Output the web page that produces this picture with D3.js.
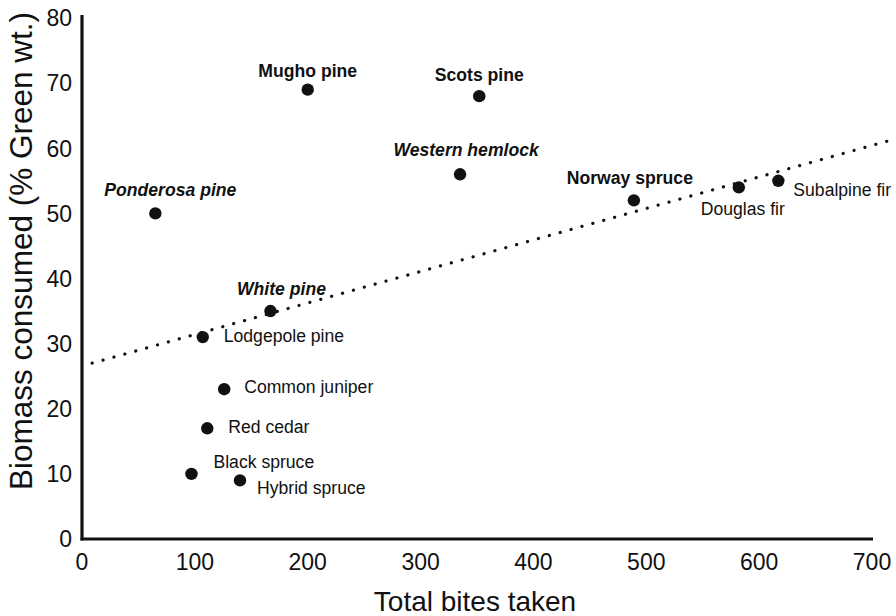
<!DOCTYPE html>
<html>
<head>
<meta charset="utf-8">
<script src="https://cdn.jsdelivr.net/npm/d3@7/dist/d3.min.js"></script>
<style>
  html, body { margin: 0; padding: 0; background: #fff; }
  svg { display: block; font-family: "Liberation Sans", Arial, Helvetica, sans-serif; }
</style>
</head>
<body>
<svg id="chart" width="896" height="616"></svg>
<script>
// Conifer species
const species = [
  "Ponderosa pine", "Mugho pine", "Scots pine", "Western hemlock",
  "Norway spruce", "Douglas fir", "Subalpine fir", "White pine",
  "Lodgepole pine", "Common juniper", "Red cedar", "Black spruce", "Hybrid spruce"
];
// Total bites taken per species
const bites = [65, 200, 352, 335, 489, 582, 617, 167, 107, 126, 111, 97, 140];
// Biomass consumed (% green weight)
const biomass = [50, 69, 68, 56, 52, 54, 55, 35, 31, 23, 17, 10, 9];

// Linear trend line end points (bites, biomass)
const trendBites = [9, 722];
const trendBiomass = [27.0, 61.5];

// Axis ticks
const xTicks = [0, 100, 200, 300, 400, 500, 600, 700];
const yTicks = [0, 10, 20, 30, 40, 50, 60, 70, 80];

// Label styling and placement relative to each point
const labelStyle = {
  "Ponderosa pine":  { weight: "bold", italic: true,  anchor: "middle", dx: 15, dy: -17 },
  "Mugho pine":      { weight: "bold", italic: false, anchor: "middle", dx: 0,  dy: -13 },
  "Scots pine":      { weight: "bold", italic: false, anchor: "middle", dx: 0,  dy: -15 },
  "Western hemlock": { weight: "bold", italic: true,  anchor: "middle", dx: 6,  dy: -18 },
  "Norway spruce":   { weight: "bold", italic: false, anchor: "middle", dx: -4, dy: -16 },
  "Douglas fir":     { weight: "normal", italic: false, anchor: "middle", dx: 4,  dy: 28 },
  "Subalpine fir":   { weight: "normal", italic: false, anchor: "start",  dx: 15, dy: 15 },
  "White pine":      { weight: "bold", italic: true,  anchor: "middle", dx: 11, dy: -16 },
  "Lodgepole pine":  { weight: "normal", italic: false, anchor: "start",  dx: 21, dy: 5 },
  "Common juniper":  { weight: "normal", italic: false, anchor: "start",  dx: 20, dy: 4 },
  "Red cedar":       { weight: "normal", italic: false, anchor: "start",  dx: 21, dy: 5 },
  "Black spruce":    { weight: "normal", italic: false, anchor: "start",  dx: 22, dy: -6 },
  "Hybrid spruce":   { weight: "normal", italic: false, anchor: "start",  dx: 17, dy: 14 }
};

const svg = d3.select("#chart");
const ink = "#111";

const x = d3.scaleLinear().domain([0, 700]).range([82, 872]);
const y = d3.scaleLinear().domain([0, 80]).range([539, 18]);

// Axis lines
svg.append("line")
  .attr("x1", x(0)).attr("x2", x(0))
  .attr("y1", y(0) + 1.5).attr("y2", 15)
  .attr("stroke", ink).attr("stroke-width", 3.2);
svg.append("line")
  .attr("x1", x(0) - 1.5).attr("x2", 873)
  .attr("y1", y(0)).attr("y2", y(0))
  .attr("stroke", ink).attr("stroke-width", 3.2);

// Tick labels
svg.append("g").selectAll("text").data(xTicks).join("text")
  .attr("x", d => x(d)).attr("y", 570)
  .attr("text-anchor", "middle")
  .attr("font-size", 23).attr("fill", ink)
  .text(d => d);
svg.append("g").selectAll("text").data(yTicks).join("text")
  .attr("x", 72).attr("y", d => y(d))
  .attr("dy", "0.36em")
  .attr("text-anchor", "end")
  .attr("font-size", 23).attr("fill", ink)
  .text(d => d);

// Axis titles
svg.append("text")
  .attr("x", 475).attr("y", 611)
  .attr("text-anchor", "middle")
  .attr("font-size", 28).attr("fill", ink)
  .text("Total bites taken");
svg.append("text")
  .attr("transform", "translate(32,251) rotate(-90)")
  .attr("text-anchor", "middle")
  .attr("font-size", 31.5).attr("fill", ink)
  .text("Biomass consumed (% Green wt.)");

// Dotted trend line
const trend = trendBites.map((b, i) => [b, trendBiomass[i]]);
svg.append("path")
  .datum(trend)
  .attr("d", d3.line().x(d => x(d[0])).y(d => y(d[1])))
  .attr("fill", "none")
  .attr("stroke", ink)
  .attr("stroke-width", 3.2)
  .attr("stroke-linecap", "round")
  .attr("stroke-dasharray", "0.1 11.2");

// Points
const pts = species.map((s, i) => ({ name: s, bx: bites[i], by: biomass[i] }));
svg.append("g").selectAll("circle").data(pts).join("circle")
  .attr("cx", d => x(d.bx)).attr("cy", d => y(d.by))
  .attr("r", 6.2)
  .attr("fill", ink);

// Labels
svg.append("g").selectAll("text").data(pts).join("text")
  .attr("x", d => x(d.bx) + labelStyle[d.name].dx)
  .attr("y", d => y(d.by) + labelStyle[d.name].dy)
  .attr("text-anchor", d => labelStyle[d.name].anchor)
  .attr("font-size", 17.6)
  .attr("font-weight", d => labelStyle[d.name].weight)
  .attr("font-style", d => labelStyle[d.name].italic ? "italic" : "normal")
  .attr("fill", ink)
  .text(d => d.name);
</script>
</body>
</html>
